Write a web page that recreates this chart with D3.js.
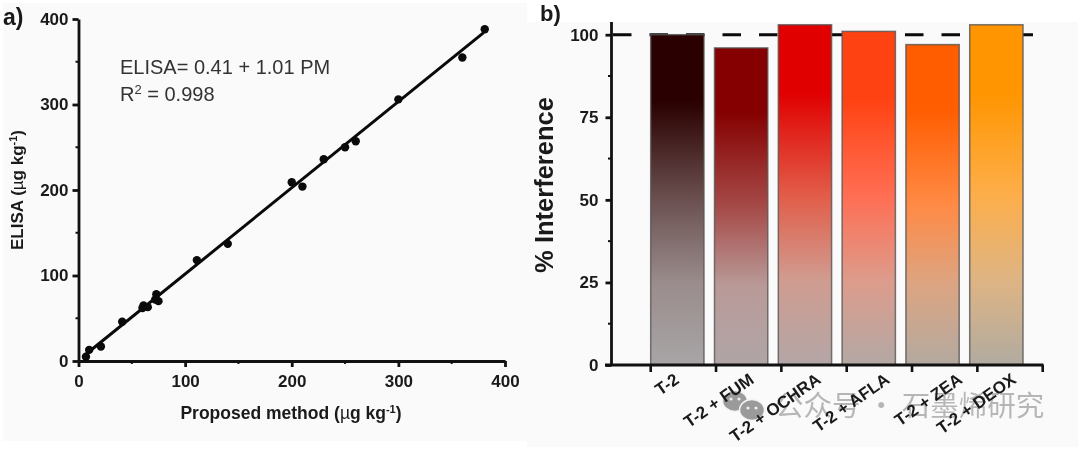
<!DOCTYPE html>
<html lang="en">
<head>
<meta charset="UTF-8">
<title>ELISA and interference</title>
<script src="https://d3js.org/d3.v7.min.js"></script>
<style>
  html, body { margin: 0; padding: 0; background: #fff; }
  svg { display: block; filter: blur(0.4px); }
  text { font-family: "Liberation Sans", Arial, sans-serif; fill: #1a1a1a; }
  .tick-label { font-size: 17px; font-weight: bold; }
</style>
</head>
<body>
<div id="chart"></div>
<script>
// panel a) values
var proposed = [7, 10, 21, 41, 60, 61, 65, 72, 73, 75, 111, 140, 200, 210, 230, 250, 260, 300, 360, 381];
var elisa = [5, 13, 17, 46, 62, 65, 63, 72, 78, 70, 118, 137, 209, 204, 236, 250, 257, 306, 355, 388];
var fitX = [6, 380];
var fitY = [7, 384];
var scatterTicks = [0, 100, 200, 300, 400];
var scatterMinor = [50, 150, 250, 350];

// panel b)
var categories = ["T-2", "T-2 + FUM", "T-2 + OCHRA", "T-2 + AFLA", "T-2 + ZEA", "T-2 + DEOX"];
var interference = [100, 96, 103, 101, 97, 103];
var barTicks = [0, 25, 50, 75, 100];
var barMinor = [12.5, 37.5, 62.5, 87.5];
var topColors = ["#2a0000", "#850000", "#e00000", "#ff4212", "#ff5d00", "#ff9500"];
var midColors = ["#6b5050", "#a54a48", "#e25c48", "#ff6f55", "#ff8a45", "#fdae4a"];
var lowColors = ["#9a8c8c", "#b99a98", "#d09c90", "#dc9c8c", "#dca583", "#deb484"];
var endColors = ["#a8a5a6", "#b0a5a6", "#b3a6a6", "#b3a8a5", "#b3a9a0", "#b1aba0"];
var labelNudge = [3, 14, 17, 22, 31, 21];

var svg = d3.select("#chart").append("svg").attr("width", 1080).attr("height", 450);

// the pasted panels have a slightly grey backing
svg.append("path").attr("d", "M3,3H527V22H1078V447H527V441H3Z").attr("fill", "#fafafa");

function axisStyle(g) {
    g.selectAll("line, path").attr("stroke", "#111").attr("stroke-width", 2.8);
    g.selectAll("text").attr("class", "tick-label").attr("fill", "#1a1a1a");
}

// ---- panel a
var x = d3.scaleLinear().domain([0, 400]).range([78.5, 505]);
var y = d3.scaleLinear().domain([0, 400]).range([361, 19]);
var a = svg.append("g");

a.append("g").attr("transform", "translate(" + x(0) + ",0)")
    .call(d3.axisLeft(y).tickValues(scatterTicks).tickSize(6).tickPadding(4).tickSizeOuter(0))
    .call(axisStyle);
a.append("g").attr("transform", "translate(0," + y(0) + ")")
    .call(d3.axisBottom(x).tickValues(scatterTicks).tickSize(6).tickPadding(8).tickSizeOuter(0))
    .call(axisStyle);
a.selectAll(".minor-y").data(scatterMinor).enter().append("line")
    .attr("x1", x(0) - 3).attr("x2", x(0))
    .attr("y1", function (d) { return y(d); }).attr("y2", function (d) { return y(d); })
    .attr("stroke", "#111").attr("stroke-width", 2);
a.selectAll(".minor-x").data(scatterMinor).enter().append("line")
    .attr("y1", y(0)).attr("y2", y(0) + 3)
    .attr("x1", function (d) { return x(d); }).attr("x2", function (d) { return x(d); })
    .attr("stroke", "#111").attr("stroke-width", 2);

a.append("line")
    .attr("x1", x(fitX[0])).attr("y1", y(fitY[0]))
    .attr("x2", x(fitX[1])).attr("y2", y(fitY[1]))
    .attr("stroke", "#0a0a0a").attr("stroke-width", 3);

a.selectAll("circle").data(proposed).enter().append("circle")
    .attr("cx", function (d) { return x(d); })
    .attr("cy", function (d, i) { return y(elisa[i]); })
    .attr("r", 4.2).attr("fill", "#0a0a0a");

a.append("text").attr("x", 120).attr("y", 74).attr("font-size", 20).style("fill", "#333")
    .text("ELISA= 0.41 + 1.01 PM");
var r2 = a.append("text").attr("x", 120).attr("y", 100.5).attr("font-size", 20).style("fill", "#333");
r2.append("tspan").text("R");
r2.append("tspan").attr("dy", -7).attr("font-size", 13).text("2");
r2.append("tspan").attr("dy", 7).text(" = 0.998");

function unitLabel(parent, name, size) {
    var t = parent.append("text").attr("font-size", size).attr("font-weight", "bold").attr("text-anchor", "middle");
    t.append("tspan").text(name + " (");
    t.append("tspan").attr("font-weight", "normal").text("\u00b5");
    t.append("tspan").text("g kg");
    t.append("tspan").attr("dy", -6).attr("font-size", 11).text("-1");
    t.append("tspan").attr("dy", 6).text(")");
    return t;
}
unitLabel(a, "Proposed method", 17.5).attr("x", 291).attr("y", 419);
unitLabel(a, "ELISA", 17).attr("transform", "translate(23,190) rotate(-90)");

a.append("text").attr("x", 3).attr("y", 25).attr("font-size", 23).attr("font-weight", "bold").text("a)");

// ---- panel b
var yb = d3.scaleLinear().domain([0, 100]).range([365, 34.7]);
var band = d3.scaleBand().domain(categories).range([650.7, 1023]).paddingInner(0.165).paddingOuter(0);
var tickPos = d3.scalePoint().domain(categories.concat(["end"])).range([650.7, 1042.7]);
var b = svg.append("g");

var defs = svg.append("defs");
categories.forEach(function (c, i) {
    var grad = defs.append("linearGradient").attr("id", "bar" + i)
        .attr("x1", 0).attr("x2", 0).attr("y1", 0).attr("y2", 1);
    grad.append("stop").attr("offset", "0%").attr("stop-color", topColors[i]);
    grad.append("stop").attr("offset", "20%").attr("stop-color", topColors[i]);
    grad.append("stop").attr("offset", "50%").attr("stop-color", midColors[i]);
    grad.append("stop").attr("offset", "75%").attr("stop-color", lowColors[i]);
    grad.append("stop").attr("offset", "100%").attr("stop-color", endColors[i]);
});

b.append("line")
    .attr("x1", 613).attr("x2", 1033.5)
    .attr("y1", yb(100)).attr("y2", yb(100))
    .attr("stroke", "#0a0a0a").attr("stroke-width", 3).attr("stroke-dasharray", "18.5 18");

b.selectAll("rect").data(categories).enter().append("rect")
    .attr("x", function (d) { return band(d); })
    .attr("y", function (d, i) { return yb(interference[i]); })
    .attr("width", band.bandwidth())
    .attr("height", function (d, i) { return yb(0) - yb(interference[i]); })
    .attr("fill", function (d, i) { return "url(#bar" + i + ")"; })
    .attr("stroke", "#555").attr("stroke-opacity", 0.8).attr("stroke-width", 1.5);

var yAxisB = b.append("g").attr("transform", "translate(611.5,0)")
    .call(d3.axisLeft(yb).tickValues(barTicks).tickSize(6).tickPadding(7).tickSizeOuter(0))
    .call(axisStyle);
yAxisB.select(".domain").attr("d", "M0,22V366");
b.selectAll(".minor-b").data(barMinor).enter().append("line")
    .attr("x1", 608).attr("x2", 611.5)
    .attr("y1", function (d) { return yb(d); }).attr("y2", function (d) { return yb(d); })
    .attr("stroke", "#111").attr("stroke-width", 2);

b.append("line").attr("x1", 605).attr("x2", 1043.5).attr("y1", yb(0)).attr("y2", yb(0))
    .attr("stroke", "#111").attr("stroke-width", 2.8);
b.selectAll(".xtick").data(tickPos.domain()).enter().append("line")
    .attr("x1", function (d) { return tickPos(d); }).attr("x2", function (d) { return tickPos(d); })
    .attr("y1", yb(0)).attr("y2", yb(0) + 7)
    .attr("stroke", "#111").attr("stroke-width", 2.6);

// ---- watermark sits semi-transparent over the labels, so the labels stay legible
var wm = svg.append("g");
[[735, 401, 12.5, 10.5], [752, 410, 12.5, 10.5]].forEach(function (e) {
    wm.append("ellipse").attr("cx", e[0]).attr("cy", e[1]).attr("rx", e[2]).attr("ry", e[3])
        .attr("fill", "#9a9a9a").attr("stroke", "#f4f4f4").attr("stroke-width", 1.5);
    wm.append("circle").attr("cx", e[0] - 4).attr("cy", e[1] - 2).attr("r", 1.6).attr("fill", "#eee");
    wm.append("circle").attr("cx", e[0] + 4).attr("cy", e[1] - 2).attr("r", 1.6).attr("fill", "#eee");
});
wm.append("text").attr("x", 775).attr("y", 416).attr("font-size", 28.5).attr("opacity", 0.6)
    .style("font-family", "'Noto Sans CJK SC', sans-serif").style("fill", "#8a8a8a")
    .text("公众号 · 石墨烯研究");

b.raise();
b.selectAll(".xlab").data(categories).enter().append("text")
    .attr("text-anchor", "end").attr("font-size", 17).attr("font-weight", "bold")
    .attr("transform", function (d, i) {
        return "translate(" + (band(d) + band.bandwidth() / 2 + labelNudge[i]) + ",382) rotate(-35)";
    })
    .text(function (d) { return d; });

b.append("text").attr("transform", "translate(553,185) rotate(-90)")
    .attr("text-anchor", "middle").attr("font-size", 25.5).attr("font-weight", "bold")
    .text("% Interference");

b.append("text").attr("x", 540).attr("y", 21).attr("font-size", 22).attr("font-weight", "bold").text("b)");
</script>
</body>
</html>
